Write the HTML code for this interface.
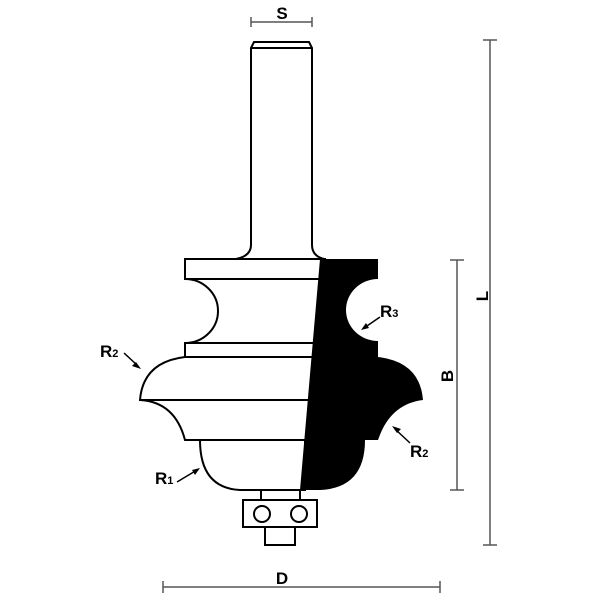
<!DOCTYPE html>
<html><head><style>
html,body{margin:0;padding:0;background:#fff;}
svg{display:block;}
text{font-family:"Liberation Sans",sans-serif;font-weight:bold;fill:#000;}
</style></head><body>
<svg width="600" height="600" viewBox="0 0 600 600" xmlns="http://www.w3.org/2000/svg">
<!-- shank -->
<g fill="#fff" stroke="#000" stroke-width="2">
<path d="M251,48 L254,42 L309,42 L312,48 L312,245 Q312,256 324,259 L236,259 Q251,256 251,245 Z"/>
<line x1="251" y1="48" x2="312" y2="48"/>
<!-- top plate -->
<rect x="185" y="259" width="140" height="20"/>
<!-- cove section -->
<path d="M185,279 A33,32 0 0 1 185,343 L322,343 L322,279 Z"/>
<rect x="185" y="343" width="135" height="14"/>
<!-- R2 bulge -->
<path d="M185,357 Q143,362 140,400 L318,400 L318,357 Z"/>
<path d="M140,400 Q175,402 185,440 L310,440 L310,400 Z"/>
<!-- R1 -->
<path d="M200,440 Q200,488 240,490 L305,490 L305,440 Z"/>
</g>
<!-- black profile -->
<path d="M320,259 L378,259 L378,279 A32,31 0 0 0 378,341 L378,357 Q420,362 423,400 Q390,404 378,440 L365,440 Q365,488 320,490 L300,490 Z" fill="#000"/>
<!-- bearing -->
<g fill="#fff" stroke="#000" stroke-width="2">
<line x1="261" y1="490" x2="261" y2="500"/>
<line x1="300" y1="490" x2="300" y2="500"/>
<rect x="243" y="500" width="74" height="27"/>
<circle cx="262" cy="514" r="8"/>
<circle cx="299" cy="514" r="8"/>
<rect x="265" y="527" width="30" height="18"/>
</g>
<!-- dimension lines -->
<g stroke="#555" stroke-width="1.5" fill="none">
<line x1="251" y1="22" x2="312" y2="22"/><line x1="251" y1="17" x2="251" y2="27"/><line x1="312" y1="17" x2="312" y2="27"/>
<line x1="490" y1="40" x2="490" y2="545"/><line x1="483" y1="40" x2="497" y2="40"/><line x1="483" y1="545" x2="497" y2="545"/>
<line x1="457" y1="260" x2="457" y2="490"/><line x1="450" y1="260" x2="464" y2="260"/><line x1="450" y1="490" x2="464" y2="490"/>
<line x1="163" y1="587" x2="440" y2="587"/><line x1="163" y1="581" x2="163" y2="593"/><line x1="440" y1="581" x2="440" y2="593"/>
</g>
<text x="282" y="19" font-size="17" text-anchor="middle">S</text>
<text x="282" y="584" font-size="17" text-anchor="middle">D</text>
<text transform="translate(488,296) rotate(-90)" font-size="17" text-anchor="middle">L</text>
<text transform="translate(453,376) rotate(-90)" font-size="17" text-anchor="middle">B</text>
<!-- labels -->
<g stroke="#000" stroke-width="1.5">
<line x1="124" y1="353" x2="138" y2="366"/>
<line x1="380" y1="317" x2="364" y2="328"/>
<line x1="410" y1="443" x2="395" y2="429"/>
<line x1="177" y1="482" x2="197" y2="470"/>
</g>
<g fill="#000">
<polygon points="141,369 132,366 136,362"/>
<polygon points="361,330 366,323 369,328"/>
<polygon points="392,426 401,429 397,433"/>
<polygon points="200,468 195,475 192,470"/>
</g>
<text x="100" y="357" font-size="17">R<tspan font-size="11">2</tspan></text>
<text x="380" y="317" font-size="17">R<tspan font-size="11">3</tspan></text>
<text x="410" y="457" font-size="17">R<tspan font-size="11">2</tspan></text>
<text x="155" y="484" font-size="17">R<tspan font-size="11">1</tspan></text>
</svg>
</body></html>
